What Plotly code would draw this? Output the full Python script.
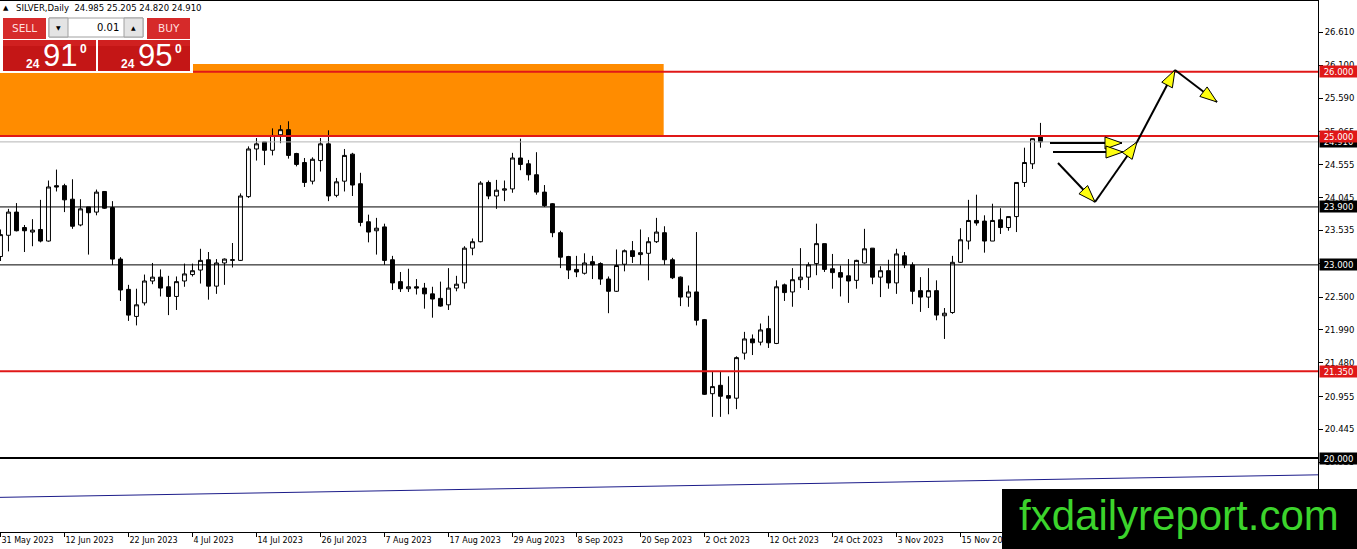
import math
import pandas as pd
import plotly.graph_objects as go

# ---------------- data ----------------
dates = pd.bdate_range("2023-05-31", periods=131)
categories = [f"{d.day} {d.strftime('%b %Y')}" for d in dates]

open_ = [23.13, 23.46, 23.82, 23.58, 23.51, 23.55, 23.37, 24.23, 24.23, 24.02,
         23.62, 23.90, 23.82, 24.14, 23.89, 23.09, 22.62, 22.20, 22.41, 22.75,
         22.81, 22.66, 22.51, 22.75, 22.85, 22.92, 23.08, 22.67, 23.03, 23.07,
         23.07, 24.06, 24.80, 24.91, 24.78, 25.02, 25.10, 24.73, 24.59, 24.30,
         24.62, 24.88, 24.08, 24.30, 24.72, 24.26, 23.67, 23.53, 23.59, 23.08,
         22.74, 22.63, 22.66, 22.64, 22.55, 22.48, 22.38, 22.64, 22.72, 23.26,
         23.36, 24.28, 24.07, 24.16, 24.18, 24.66, 24.57, 24.40, 24.13, 23.95,
         23.50, 23.13, 22.93, 22.87, 23.05, 23.02, 22.78, 22.59, 23.01, 23.22,
         23.16, 23.18, 23.36, 23.50, 23.08, 22.81, 22.50, 22.58, 22.15, 21.00,
         21.13, 20.97, 20.93, 21.63, 21.85, 21.80, 22.01, 21.78, 22.69, 22.58,
         22.77, 22.81, 23.02, 23.33, 22.94, 22.88, 22.83, 22.76, 23.03, 23.26,
         22.81, 22.91, 22.72, 23.14, 23.00, 22.60, 22.50, 22.60, 22.21, 22.26,
         23.04, 23.37, 23.69, 23.68, 23.37, 23.70, 23.58, 23.75, 24.28, 24.57,
         24.985]
high = [23.55, 23.87, 23.96, 23.62, 23.71, 24.01, 24.31, 24.48, 24.26, 24.33,
        24.02, 23.90, 24.17, 24.14, 23.99, 23.12, 22.69, 22.63, 22.85, 23.03,
        22.93, 22.83, 22.82, 23.02, 23.02, 23.25, 23.20, 23.09, 23.10, 23.34,
        24.11, 24.84, 24.97, 24.91, 25.12, 25.17, 25.23, 24.74, 24.66, 24.67,
        24.97, 25.09, 24.35, 24.80, 24.74, 24.43, 23.78, 23.73, 23.64, 23.14,
        22.89, 22.94, 22.78, 22.72, 22.66, 22.74, 22.95, 22.83, 23.29, 23.41,
        24.30, 24.31, 24.32, 24.31, 24.74, 24.96, 24.63, 24.75, 24.24, 23.96,
        23.53, 23.14, 23.14, 23.18, 23.14, 23.04, 22.82, 23.24, 23.24, 23.37,
        23.55, 23.43, 23.73, 23.60, 23.11, 22.82, 22.68, 23.51, 22.16, 21.35,
        21.35, 21.27, 21.58, 21.96, 21.92, 22.09, 22.21, 22.76, 22.71, 22.95,
        23.26, 23.04, 23.64, 23.33, 23.17, 22.99, 23.09, 23.08, 23.56, 23.26,
        22.98, 23.08, 23.25, 23.20, 23.04, 22.81, 22.95, 22.76, 22.33, 23.14,
        23.57, 24.01, 24.09, 23.77, 23.95, 23.88, 23.75, 24.28, 24.82, 24.96,
        25.205]
low = [23.06, 23.21, 23.52, 23.20, 23.29, 23.35, 23.36, 24.14, 23.82, 23.56,
       23.60, 23.16, 23.77, 23.87, 23.00, 22.44, 22.13, 22.06, 22.37, 22.70,
       22.51, 22.22, 22.30, 22.66, 22.82, 22.71, 22.46, 22.55, 22.69, 22.96,
       23.06, 24.04, 24.62, 24.55, 24.70, 24.89, 24.65, 24.53, 24.21, 24.25,
       24.45, 23.99, 24.05, 24.14, 24.07, 23.60, 23.35, 23.16, 23.00, 22.61,
       22.58, 22.58, 22.54, 22.32, 22.18, 22.35, 22.30, 22.59, 22.63, 23.15,
       23.35, 24.02, 23.87, 23.99, 24.12, 24.47, 24.31, 24.09, 23.90, 23.43,
       22.95, 22.78, 22.81, 22.85, 22.78, 22.69, 22.25, 22.58, 22.90, 23.03,
       23.00, 22.76, 23.34, 23.00, 22.78, 22.36, 22.35, 22.06, 20.98, 20.64,
       20.64, 20.68, 20.76, 21.53, 21.60, 21.75, 21.71, 21.77, 22.44, 22.35,
       22.64, 22.61, 22.84, 22.89, 22.63, 22.51, 22.41, 22.63, 23.02, 22.70,
       22.50, 22.63, 22.55, 22.95, 22.39, 22.27, 22.33, 22.14, 21.85, 22.24,
       23.03, 23.24, 23.61, 23.19, 23.37, 23.48, 23.53, 23.51, 24.21, 24.49,
       24.820]
close = [23.47, 23.82, 23.53, 23.53, 23.54, 23.37, 24.21, 24.21, 24.01, 23.60,
         23.87, 23.81, 24.13, 23.88, 23.09, 22.61, 22.22, 22.38, 22.75, 22.81,
         22.64, 22.51, 22.74, 22.86, 22.91, 23.07, 22.67, 23.03, 23.09, 23.08,
         24.07, 24.80, 24.88, 24.78, 25.01, 25.10, 24.70, 24.56, 24.28, 24.64,
         24.88, 24.07, 24.29, 24.70, 24.24, 23.66, 23.51, 23.57, 23.07, 22.72,
         22.63, 22.66, 22.64, 22.55, 22.47, 22.36, 22.64, 22.70, 23.26, 23.36,
         24.27, 24.07, 24.16, 24.18, 24.66, 24.56, 24.40, 24.13, 23.92, 23.50,
         23.12, 22.92, 22.89, 23.03, 23.00, 22.78, 22.59, 22.99, 23.22, 23.13,
         23.19, 23.36, 23.51, 23.08, 22.80, 22.50, 22.58, 22.14, 20.99, 21.11,
         20.96, 20.93, 21.56, 21.85, 21.79, 21.99, 21.79, 22.66, 22.57, 22.77,
         22.81, 23.00, 23.33, 22.93, 22.88, 22.81, 22.75, 23.07, 23.25, 22.81,
         22.91, 22.72, 23.17, 23.00, 22.59, 22.50, 22.60, 22.22, 22.25, 23.04,
         23.39, 23.69, 23.65, 23.37, 23.69, 23.58, 23.75, 24.28, 24.59, 24.96,
         24.910]

price_ticks = [19.935, 20.445, 20.955, 21.480, 21.990, 22.500, 23.025, 23.535,
               24.045, 24.555, 25.065, 25.590, 26.100, 26.610]
red_levels = [26.000, 25.000, 21.350]
black_levels = [23.900, 23.000]
strong_level = 20.000
bid_price = 24.910
zone_low, zone_high, zone_end_bar = 25.000, 26.120, 82.9
trend_start, trend_end = 19.39, 19.74
header_text = "SILVER,Daily  24.985 25.205 24.820 24.910"

# ---------------- geometry helpers (decorations only) ----------------
W, H = 1357, 549
ML, MR, MT, MB = 0, 39, 1, 17
PW, PH = W - ML - MR, H - MT - MB


def PX(x):
    return (x - ML) / PW


def PY(y):
    return (H - MB - y) / PH


FONT = "DejaVu Sans"

fig = go.Figure(go.Candlestick(
    x=categories, open=open_, high=high, low=low, close=close,
    increasing=dict(line=dict(color="black", width=1), fillcolor="white"),
    decreasing=dict(line=dict(color="black", width=1), fillcolor="black"),
    whiskerwidth=0, hoverinfo="x+y",
))

shapes = []
# orange supply zone
shapes.append(dict(type="rect", xref="x", yref="y", x0=-2, x1=zone_end_bar,
                   y0=zone_low, y1=zone_high, fillcolor="#ff8c00",
                   line=dict(width=0), layer="below"))
# horizontal levels
RED = "#e01818"
shapes.append(dict(type="line", xref="paper", yref="y", x0=0, x1=1, y0=bid_price,
                   y1=bid_price, line=dict(color="#b4b4b4", width=1)))
for lv in black_levels:
    shapes.append(dict(type="line", xref="paper", yref="y", x0=0, x1=1, y0=lv, y1=lv,
                       line=dict(color="black", width=1)))
shapes.append(dict(type="line", xref="paper", yref="y", x0=0, x1=1, y0=strong_level,
                   y1=strong_level, line=dict(color="black", width=2)))
for lv in red_levels:
    shapes.append(dict(type="line", xref="paper", yref="y", x0=0, x1=1, y0=lv, y1=lv,
                       line=dict(color=RED, width=2)))
# trend line
shapes.append(dict(type="line", xref="paper", yref="y", x0=0, x1=1, y0=trend_start,
                   y1=trend_end, line=dict(color="#1c1c8a", width=1)))


# forecast arrows (pixel geometry -> paper)
def seg(p, q):
    return dict(type="line", xref="paper", yref="paper", x0=PX(p[0]), y0=PY(p[1]),
                x1=PX(q[0]), y1=PY(q[1]), line=dict(color="black", width=2))


def head(tip, frm, length=17, half=6):
    dx, dy = tip[0] - frm[0], tip[1] - frm[1]
    n = math.hypot(dx, dy)
    ux, uy = dx / n, dy / n
    bx, by = tip[0] - ux * length, tip[1] - uy * length
    px_, py_ = -uy, ux
    pts = [tip, (bx + px_ * half, by + py_ * half), (bx - px_ * half, by - py_ * half)]
    path = "M " + " L ".join(f"{PX(a):.5f},{PY(b):.5f}" for a, b in pts) + " Z"
    return dict(type="path", xref="paper", yref="paper", path=path,
                fillcolor="#ffff10", line=dict(color="black", width=1))


arrows = [
    ((1050, 143), (1122, 143)),
    ((1053, 152), (1123, 152)),
    ((1058, 163), (1095, 202)),
    ((1095, 202), (1137, 142)),
    ((1137, 142), (1175, 70)),
    ((1175, 70), (1217, 102)),
]
for p, q in arrows:
    shapes.append(seg(p, q))
for p, q in arrows:
    shapes.append(head(q, p))


# one-click trading panel
def prect(x0, y0, x1, y1, fill, line=None):
    return dict(type="rect", xref="paper", yref="paper", x0=PX(x0), x1=PX(x1),
                y0=PY(y1), y1=PY(y0), fillcolor=fill,
                line=dict(width=1 if line else 0, color=line or fill))


shapes += [
    prect(0, 15, 193, 73, "white"),
    prect(3, 18, 46, 39, "#d62a2a"),
    prect(147, 18, 190, 39, "#d62a2a"),
    prect(49, 18, 143, 37, "white", "#a0a0a0"),
    prect(49, 18, 68, 37, "#e4e4e4", "#a0a0a0"),
    prect(124, 18, 143, 37, "#e4e4e4", "#a0a0a0"),
    prect(3, 40, 96, 71, "#c41616"),
    prect(98, 40, 190, 71, "#c41616"),
    prect(3, 40, 96, 46, "#d02020"),
    prect(98, 40, 190, 46, "#d02020"),
    # watermark box
    prect(1002, 489, 1357, 549, "black"),
]

ann = []


def txt(x, y, s, size, color="black", anchor="center", family=FONT, bold=False):
    ann.append(dict(xref="paper", yref="paper", x=PX(x), y=PY(y),
                    text=f"<b>{s}</b>" if bold else s,
                    showarrow=False, xanchor=anchor, yanchor="middle",
                    font=dict(family=family, size=size, color=color)))


txt(5.5, 8, "▲", 7)
txt(14, 8, header_text, 8.5, anchor="left")
txt(24.5, 28, "SELL", 10.5, "#ffdede")
txt(168.5, 28, "BUY", 10.5, "#ffdede")
txt(58.5, 27.5, "▼", 6)
txt(133.5, 27.5, "▲", 6)
txt(121, 27.5, "0.01", 10, anchor="right")
txt(33, 63.5, "24", 12, "white", family="Liberation Sans", bold=True)
txt(59.5, 56, "91", 31, "white", family="Liberation Sans")
txt(83.5, 48.5, "0", 12, "white", family="Liberation Sans", bold=True)
txt(127.5, 63.5, "24", 12, "white", family="Liberation Sans", bold=True)
txt(155, 56, "95", 31, "white", family="Liberation Sans")
txt(178.5, 48.5, "0", 12, "white", family="Liberation Sans", bold=True)
txt(1179, 515, "fxdailyreport.com", 42, "#3cd42c", family="Liberation Sans")

# price tags on the right axis
tags = [(bid_price, "black"), (26.000, RED), (25.000, RED), (23.900, "black"),
        (23.000, "black"), (21.350, RED), (20.000, "black")]
for val, col in tags:
    ann.append(dict(xref="paper", yref="y", x=1, y=val, xanchor="left", xshift=1,
                    text=f"{val:.3f}", showarrow=False, bgcolor=col, borderpad=0,
                    width=37, height=11, align="center",
                    font=dict(family=FONT, size=8.5, color="white")))

fig.update_layout(
    width=W, height=H, margin=dict(l=ML, r=MR, t=MT, b=MB),
    paper_bgcolor="white", plot_bgcolor="white", showlegend=False,
    shapes=shapes, annotations=ann,
    xaxis=dict(type="category", range=[-0.06, 164.69], rangeslider=dict(visible=False),
               showgrid=False, zeroline=False, showline=True, linecolor="black",
               linewidth=1, mirror=True, ticks="outside", ticklen=4, tickcolor="black",
               tickmode="array", tickvals=categories[::8], ticktext=categories[::8],
               ticklabelposition="outside right",
               tickfont=dict(family=FONT, size=8, color="black")),
    yaxis=dict(side="right", range=[18.852, 27.098], showgrid=False, zeroline=False,
               showline=True, linecolor="black", linewidth=1, ticks="outside",
               ticklen=4, tickcolor="black", tickmode="array", tickvals=price_ticks,
               ticktext=[f"{t:.3f}" for t in price_ticks],
               tickfont=dict(family=FONT, size=8.5, color="black")),
)

fig.write_html(
    "out.html",
    config={"displayModeBar": False},
    post_script="document.body.style.margin='0';document.body.style.padding='0';"
                "document.body.style.overflow='hidden';",
)
